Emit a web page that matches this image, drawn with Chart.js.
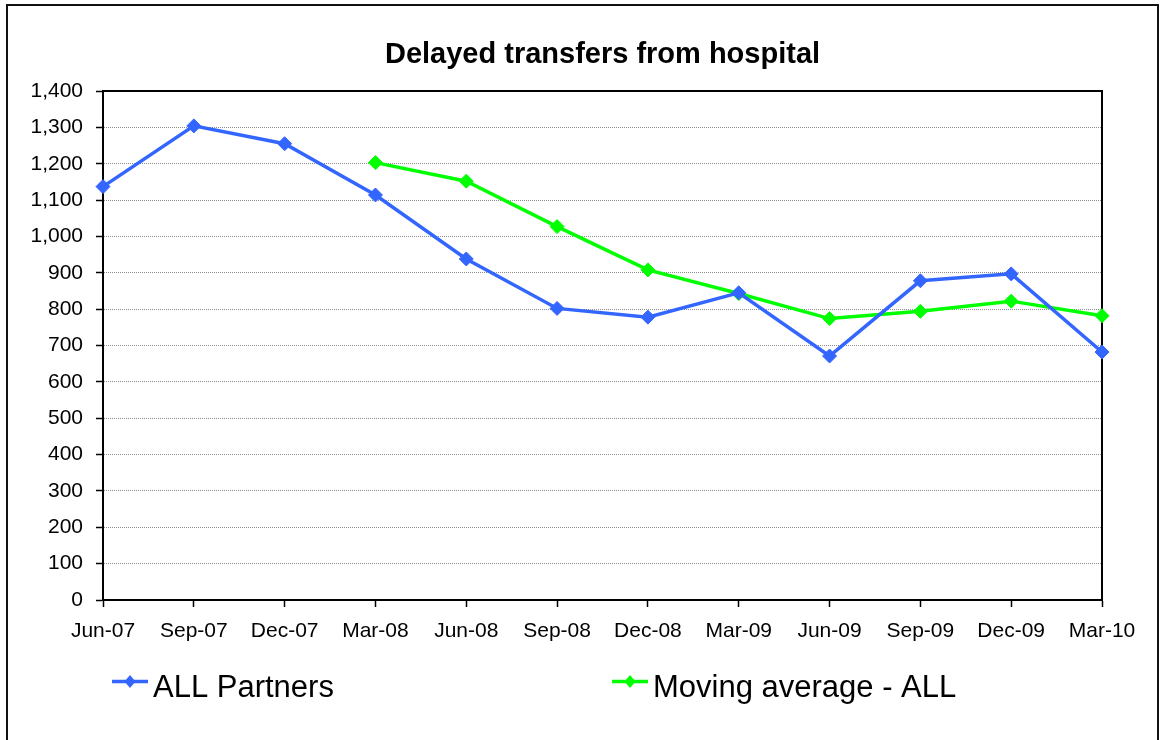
<!DOCTYPE html>
<html>
<head>
<meta charset="utf-8">
<script src="https://cdn.jsdelivr.net/npm/chart.js@4.4.0/dist/chart.umd.min.js"></script>
<style>
  html, body { margin: 0; padding: 0; background: #ffffff; }
  canvas { display: block; }
</style>
</head>
<body>
<canvas id="c" width="1161" height="740"></canvas>
<script>
// ---- data ----
const categories = ["Jun-07", "Sep-07", "Dec-07", "Mar-08", "Jun-08", "Sep-08",
                    "Dec-08", "Mar-09", "Jun-09", "Sep-09", "Dec-09", "Mar-10"];
const allPartners = [1137, 1304, 1255, 1114, 938, 802, 778, 845, 671, 878, 897, 682];
const movingAverage = [null, null, null, 1203, 1152, 1027, 908, 843, 774, 794, 822, 782];
const seriesNames = ["ALL Partners", "Moving average - ALL"];
const titleText = "Delayed transfers from hospital";
const yMin = 0, yMax = 1400, yStep = 100;

const FONT = "'Liberation Sans', Arial, sans-serif";
const BLUE = "#3366FF";
const GREEN = "#00FF00";

// background, frames and title
const framePlugin = {
  id: 'frame',
  beforeDraw(chart) {
    const ctx = chart.ctx;
    ctx.save();
    ctx.fillStyle = '#ffffff';
    ctx.fillRect(0, 0, chart.width, chart.height);
    ctx.restore();
  },
  beforeDatasetsDraw(chart) {
    const ctx = chart.ctx;
    const a = chart.chartArea;
    ctx.save();
    ctx.strokeStyle = '#000000';
    ctx.lineWidth = 2;
    ctx.strokeRect(a.left, a.top, a.right - a.left, a.bottom - a.top);
    ctx.restore();
  },
  afterDraw(chart) {
    const ctx = chart.ctx;
    const a = chart.chartArea;
    ctx.save();
    ctx.strokeStyle = '#111111';
    ctx.lineWidth = 2;
    ctx.strokeRect(7, 5, 1151, 760);
    ctx.fillStyle = '#000000';
    ctx.font = "bold 29px " + FONT;
    ctx.textAlign = 'center';
    ctx.textBaseline = 'alphabetic';
    ctx.fillText(titleText, (a.left + a.right) / 2, 63);
    ctx.restore();
  }
};

// custom legend laid out like the original
const legendPlugin = {
  id: 'customLegend',
  afterDraw(chart) {
    const ctx = chart.ctx;
    const items = [
      { x: 112, ds: chart.data.datasets[0] },
      { x: 612, ds: chart.data.datasets[1] }
    ];
    ctx.save();
    items.forEach(it => {
      const yLine = 681.5;
      ctx.strokeStyle = it.ds.borderColor;
      ctx.lineWidth = 3.5;
      ctx.beginPath();
      ctx.moveTo(it.x, yLine);
      ctx.lineTo(it.x + 36, yLine);
      ctx.stroke();
      const cx = it.x + 18, r = 6.5;
      ctx.fillStyle = it.ds.borderColor;
      ctx.beginPath();
      ctx.moveTo(cx, yLine - r);
      ctx.lineTo(cx + r * 0.85, yLine);
      ctx.lineTo(cx, yLine + r);
      ctx.lineTo(cx - r * 0.85, yLine);
      ctx.closePath();
      ctx.fill();
      ctx.fillStyle = '#000000';
      ctx.font = "31px " + FONT;
      ctx.textBaseline = 'alphabetic';
      ctx.textAlign = 'left';
      ctx.fillText(it.ds.label, it.x + 41, 697);
    });
    ctx.restore();
  }
};

new Chart(document.getElementById('c'), {
  type: 'line',
  data: {
    labels: categories,
    datasets: [
      {
        label: seriesNames[0],
        data: allPartners,
        borderColor: BLUE,
        backgroundColor: BLUE,
        borderWidth: 3.5,
        pointStyle: 'rectRot',
        pointRadius: 7,
        pointBorderWidth: 1,
        pointBackgroundColor: BLUE,
        pointBorderColor: BLUE,
        tension: 0,
        spanGaps: false
      },
      {
        label: seriesNames[1],
        data: movingAverage,
        borderColor: GREEN,
        backgroundColor: GREEN,
        borderWidth: 3.5,
        pointStyle: 'rectRot',
        pointRadius: 7,
        pointBorderWidth: 1,
        pointBackgroundColor: GREEN,
        pointBorderColor: GREEN,
        tension: 0,
        spanGaps: false
      }
    ]
  },
  options: {
    responsive: false,
    animation: false,
    events: [],
    layout: { padding: { left: 0, right: 59, top: 91, bottom: 0 } },
    plugins: {
      legend: { display: false },
      tooltip: { enabled: false },
      title: { display: false }
    },
    scales: {
      x: {
        type: 'category',
        offset: false,
        grid: {
          display: true,
          drawOnChartArea: false,
          drawTicks: true,
          tickLength: 7,
          tickColor: '#000000',
          tickWidth: 1.5
        },
        border: { display: true, color: '#000000', width: 2 },
        ticks: {
          color: '#000000',
          font: { family: FONT, size: 21 },
          padding: 12,
          maxRotation: 0,
          autoSkip: false
        },
        afterFit(scale) { scale.height = 140; }
      },
      y: {
        min: yMin,
        max: yMax,
        grid: {
          display: true,
          color: '#8c8c8c',
          lineWidth: 1,
          drawTicks: true,
          tickLength: 7,
          tickColor: '#000000',
          tickWidth: 1.5,
          tickBorderDash: []
        },
        border: { display: true, color: '#000000', width: 2, dash: [1, 1] },
        ticks: {
          stepSize: yStep,
          color: '#000000',
          font: { family: FONT, size: 21 },
          padding: 13,
          callback: v => Number(v).toLocaleString('en-US')
        },
        afterFit(scale) { scale.width = 103; }
      }
    }
  },
  plugins: [framePlugin, legendPlugin]
});
</script>
</body>
</html>
